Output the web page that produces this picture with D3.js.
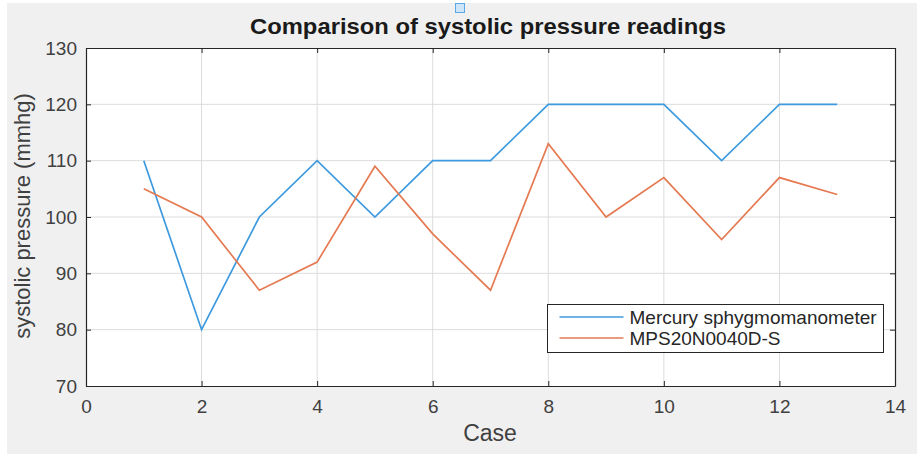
<!DOCTYPE html>
<html>
<head>
<meta charset="utf-8">
<script src="https://cdn.jsdelivr.net/npm/d3@7"></script>
<style>
  body { margin: 0; background: #fff; }
  text { font-family: "Liberation Sans", Arial, Helvetica, sans-serif; }
</style>
</head>
<body>
<div id="chart"></div>
<script>
// Dados
var cases = [1, 2, 3, 4, 5, 6, 7, 8, 9, 10, 11, 12, 13];
var mercury = [110, 80, 100, 110, 100, 110, 110, 120, 120, 120, 110, 120, 120];
var mps = [105, 100, 87, 92, 109, 97, 87, 113, 100, 107, 96, 107, 104];
var seriesNames = ["Mercury sphygmomanometer", "MPS20N0040D-S"];
var xTicks = [0, 2, 4, 6, 8, 10, 12, 14];
var yTicks = [70, 80, 90, 100, 110, 120, 130];

// Tamanho do svg
var w = 923, h = 454;
var margin = {top: 48, right: 28, bottom: 68, left: 86};
var width = w - margin.left - margin.right;
var height = h - margin.top - margin.bottom;

var colors = ["#3d9ade", "#e57a52"];

var svg = d3.select("#chart")
  .append("svg")
  .attr("width", w)
  .attr("height", h);

// fundo cinza da figura
svg.append("rect")
  .attr("x", 7).attr("y", 3)
  .attr("width", 910).attr("height", 451)
  .attr("fill", "#f0f0f0");

// icone pequeno acima do titulo
svg.append("rect")
  .attr("x", 455.5).attr("y", 3.5)
  .attr("width", 9).attr("height", 9)
  .attr("fill", "#cfe6f8")
  .attr("stroke", "#5aa9e6");

var g = svg.append("g")
  .attr("transform", "translate(" + margin.left + "," + margin.top + ")");

// Escalas
var x = d3.scaleLinear().domain([0, 14]).range([0, width]);
var y = d3.scaleLinear().domain([70, 130]).range([height, 0]);

g.append("rect")
  .attr("width", width).attr("height", height)
  .attr("fill", "#fff");

// Grade
g.append("g").selectAll("line")
  .data(xTicks.slice(1, -1))
  .enter().append("line")
  .attr("x1", function(d) { return x(d); })
  .attr("x2", function(d) { return x(d); })
  .attr("y1", 0).attr("y2", height)
  .attr("stroke", "#dcdcdc");
g.append("g").selectAll("line")
  .data(yTicks.slice(1, -1))
  .enter().append("line")
  .attr("y1", function(d) { return y(d); })
  .attr("y2", function(d) { return y(d); })
  .attr("x1", 0).attr("x2", width)
  .attr("stroke", "#dcdcdc");

// Eixos (ticks para dentro, estilo matlab)
function styleAxis(sel, labels) {
  sel.select(".domain").attr("stroke", "#262626").attr("stroke-width", 1.2);
  sel.selectAll(".tick line").attr("stroke", "#262626");
  sel.selectAll(".tick text")
    .attr("fill", "#404040")
    .attr("font-size", "19px")
    .style("display", labels ? null : "none");
}

g.append("g")
  .attr("transform", "translate(0," + height + ")")
  .call(d3.axisBottom(x).tickValues(xTicks).tickSizeInner(-5).tickSizeOuter(0).tickPadding(14))
  .call(styleAxis, true);
g.append("g")
  .call(d3.axisTop(x).tickValues(xTicks).tickSizeInner(-5).tickSizeOuter(0))
  .call(styleAxis, false);
g.append("g")
  .call(d3.axisLeft(y).tickValues(yTicks).tickSizeInner(-5).tickSizeOuter(0).tickPadding(9))
  .call(styleAxis, true);
g.append("g")
  .attr("transform", "translate(" + width + ",0)")
  .call(d3.axisRight(y).tickValues(yTicks).tickSizeInner(-5).tickSizeOuter(0))
  .call(styleAxis, false);

// Linhas
var line = d3.line()
  .x(function(d) { return x(d[0]); })
  .y(function(d) { return y(d[1]); });

[mercury, mps].forEach(function(vals, i) {
  g.append("path")
    .datum(cases.map(function(c, j) { return [c, vals[j]]; }))
    .attr("fill", "none")
    .attr("stroke", colors[i])
    .attr("stroke-width", 1.7)
    .attr("d", line);
});

// Legenda
var leg = svg.append("g").attr("transform", "translate(547.5,304.5)");
leg.append("rect")
  .attr("width", 336).attr("height", 48)
  .attr("fill", "#fff")
  .attr("stroke", "#262626");
seriesNames.forEach(function(name, i) {
  leg.append("line")
    .attr("x1", 12).attr("x2", 76)
    .attr("y1", 12.5 + i * 21).attr("y2", 12.5 + i * 21)
    .attr("stroke", colors[i])
    .attr("stroke-width", 1.7);
  leg.append("text")
    .attr("x", 82).attr("y", 19.5 + i * 21)
    .attr("font-size", "19px")
    .attr("fill", "#262626")
    .text(name);
});

// Titulo e labels
svg.append("text")
  .attr("x", 488).attr("y", 34)
  .attr("text-anchor", "middle")
  .attr("font-size", "22px")
  .attr("font-weight", "bold")
  .attr("fill", "#1a1a1a")
  .attr("textLength", 476)
  .attr("lengthAdjust", "spacingAndGlyphs")
  .text("Comparison of systolic pressure readings");

svg.append("text")
  .attr("x", 490).attr("y", 441)
  .attr("text-anchor", "middle")
  .attr("font-size", "23px")
  .attr("fill", "#404040")
  .text("Case");

svg.append("text")
  .attr("transform", "translate(30," + 216 + ") rotate(-90)")
  .attr("text-anchor", "middle")
  .attr("font-size", "22px")
  .attr("fill", "#404040")
  .text("systolic pressure (mmhg)");
</script>
</body>
</html>
